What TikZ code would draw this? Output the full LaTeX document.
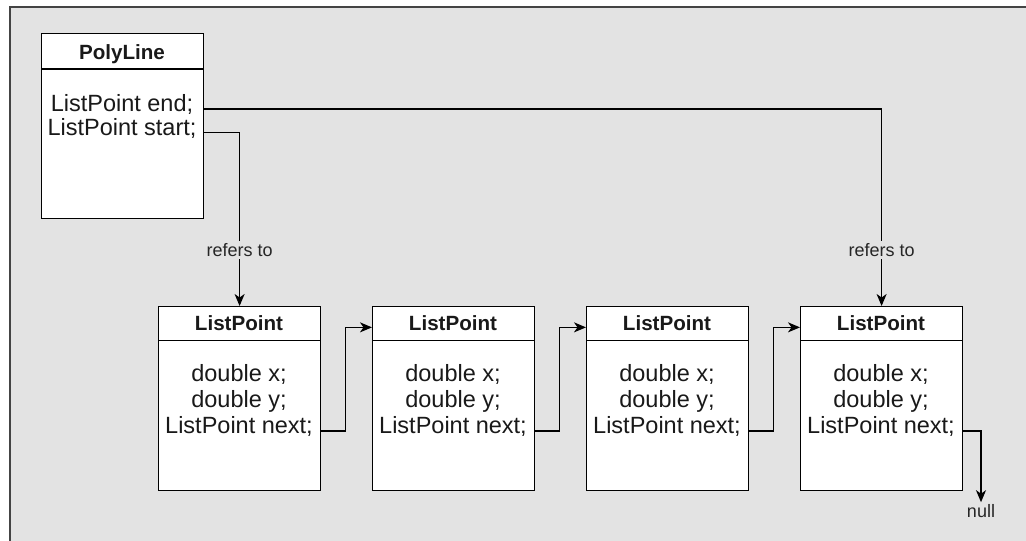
\documentclass[tikz,border=0pt]{standalone}
\usepackage{fontspec}
\setmainfont{Liberation Sans}
\usetikzlibrary{arrows.meta}
\definecolor{bggray}{HTML}{E3E3E3}
\definecolor{framegray}{HTML}{444444}
\begin{document}
\begin{tikzpicture}[x=1pt,y=-1pt,
  box/.style={draw=black, fill=white, line width=1.2pt, minimum width=162pt, minimum height=184pt, inner sep=0pt, anchor=north west},
  divider/.style={draw=black, line width=1.2pt},
  hdr/.style={font=\fontsize{20.6}{24}\selectfont\bfseries, anchor=base, inner sep=0pt, text=black!90},
  fld/.style={font=\fontsize{23.5}{26}\selectfont, anchor=base, inner sep=0pt, text=black!90},
  lbl/.style={font=\fontsize{18}{20}\selectfont, fill=bggray, inner sep=2pt, text=black!85},
  conn/.style={line width=1.3pt, -{Stealth[length=12pt,width=10pt,inset=3.5pt]}}]
\useasboundingbox (0,0) rectangle (1026,541);
\fill[bggray] (10,7) rectangle (1026,541);
\draw[framegray, line width=1.6pt] (10,541) -- (10,7) -- (1026,7);

% PolyLine box
\node[box, minimum height=185pt] (pl) at (41,33) {};
\draw[divider] (41,69) -- (203,69);
\node[hdr] (plt) at (122,59) {PolyLine};
\node[fld] (ple) at (122,111.5) {ListPoint end;};
\node[fld] (pls) at (122,135) {ListPoint start;};

% ListPoint boxes
\foreach \i/\x in {1/158,2/372,3/586,4/800}{
  \node[box] (b\i) at (\x,306) {};
  \draw[divider] (\x,340.5) -- (\x+162,340.5);
  \node[hdr] (h\i) at (\x+81,330) {ListPoint};
  \node[fld] (x\i) at (\x+81,381.5) {double x;};
  \node[fld] (y\i) at (\x+81,407.5) {double y;};
  \node[fld] (n\i) at (\x+81,433.5) {ListPoint next;};
}

% null label
\node[font=\fontsize{18}{20}\selectfont, inner sep=2pt, text=black!85] (nul) at (981,511) {null};

% connectors
\draw[conn] (pl.east |- ple.mid) -| (b4.north);
\draw[conn] (pl.east |- pls.mid) -| (b1.north);
\foreach \a/\b in {1/2,2/3,3/4}{
  \draw[conn] (b\a.east |- n\a.mid) -- ++(24,0) |- (b\b.west |- h\b.mid);
}
\draw[conn] (b4.east |- n4.mid) -| (nul.north);

% labels
\node[lbl] (r1) at (b1.north |- 0,250) {refers to};
\node[lbl] (r2) at (b4.north |- 0,250) {refers to};
\end{tikzpicture}
\end{document}
